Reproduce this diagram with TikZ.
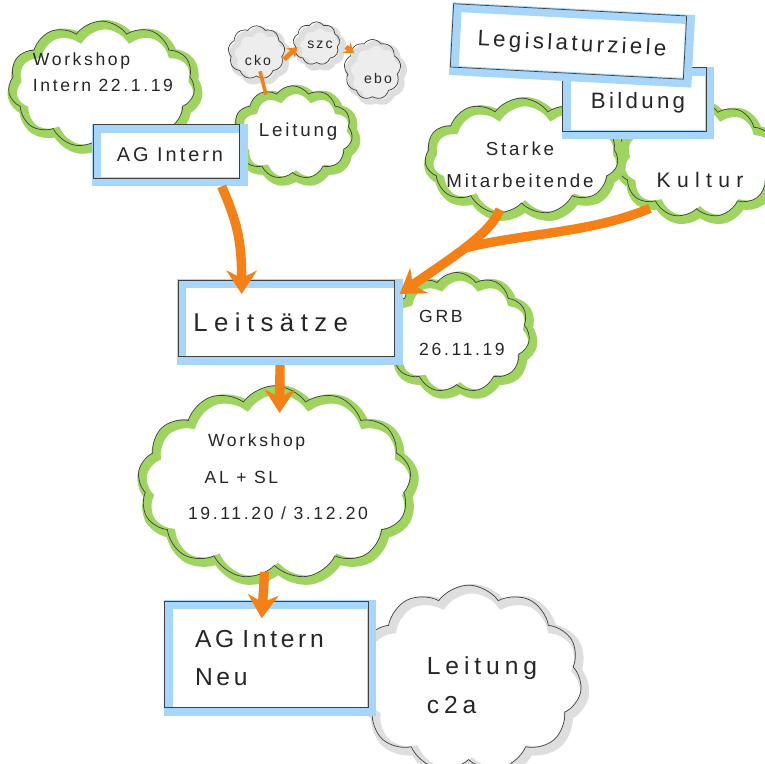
\documentclass[tikz,border=0pt]{standalone}
\usepackage{fontspec}
\setmainfont{Liberation Sans}[LetterSpace=15]
\usepackage{xcolor}
\usepackage{tikz}
\usetikzlibrary{shapes.symbols, arrows.meta, positioning, calc}

\definecolor{sketchgreen}{RGB}{160,212,96}
\definecolor{sketchblue}{RGB}{168,214,250}
\definecolor{sketchorange}{RGB}{245,128,22}
\definecolor{sketchgrey}{RGB}{222,222,222}

\begin{document}
\begin{tikzpicture}[
    x=0.03cm, y=-0.03cm,
    greencloud/.style={cloud, cloud puffs=11, cloud puff arc=110, cloud ignores aspect, draw=sketchgreen, line width=8pt, fill=white, postaction={draw=black!75, line width=0.6pt, transform canvas={shift={(-3pt,3pt)}}}},
    greycloud/.style={greencloud, draw=sketchgrey},
    smallcloud/.style={greycloud, cloud puffs=9, line width=5pt, fill=sketchgrey!55},
    bluebox/.style={rectangle, draw=sketchblue, line width=8pt, fill=white, text=black!85, postaction={draw=black!75, line width=0.6pt, transform canvas={shift={(-3pt,3pt)}}}},
    txt/.style={align=left, inner sep=0pt, text=black!85},
    arrow/.style={-{Stealth[length=20pt, width=26pt]}, draw=sketchorange, line width=8pt},
    band/.style={draw=sketchorange, line width=8pt},
    smallarrow/.style={-{Stealth[length=8pt, width=11pt]}, draw=sketchorange, line width=4pt},
]
\useasboundingbox (0,0) rectangle (765,763);

% Clouds
\node[greencloud, minimum width=5.6cm, minimum height=3.8cm] (wsintern) at (105,88) {};
\node[greencloud, minimum width=3.6cm, minimum height=2.8cm] (leitung) at (296,136) {};
\node[smallcloud, minimum width=1.7cm, minimum height=1.6cm] (cko) at (260,56) {};
\node[smallcloud, minimum width=1.4cm, minimum height=1.3cm] (szc) at (320,47) {};
\node[smallcloud, minimum width=1.7cm, minimum height=1.8cm] (ebo) at (376,73) {};
\node[greencloud, minimum width=4.8cm, minimum height=3.5cm] (kultur) at (700,163) {};
\node[greencloud, minimum width=5.8cm, minimum height=3.5cm] (starke) at (525,160) {};
\node[greencloud, minimum width=4.4cm, minimum height=3.6cm] (grb) at (460,336) {};
\node[greencloud, minimum width=8.2cm, minimum height=5.8cm, cloud puffs=13] (wsal) at (278,486) {};
\node[greycloud, minimum width=6.8cm, minimum height=5.6cm] (leitungneu) at (472,682) {};

% Boxes
\node[bluebox, minimum width=4.4cm, minimum height=1.6cm, font=\fontsize{17}{20}\selectfont] (agintern) at (170,155) {AG Intern};
\node[bluebox, minimum width=4.3cm, minimum height=1.9cm, font=\fontsize{19}{22}\selectfont] (bildung) at (638,103) {Bildung};
\node[bluebox, minimum width=7.0cm, minimum height=1.9cm, rotate=-3, font=\fontsize{19}{22}\selectfont] (legis) at (572,45) {Legislaturziele};
\node[bluebox, minimum width=6.5cm, minimum height=2.3cm, inner xsep=0.35cm, text width=5.8cm, align=left, font=\fontsize{22}{26}\selectfont\addfontfeature{LetterSpace=25}] (leitsaetze) at (290,322) {Leitsätze};
\node[bluebox, minimum width=6.1cm, minimum height=3.2cm, inner xsep=0.8cm, text width=4.5cm, align=left, font=\fontsize{21}{32}\selectfont] (agneu) at (270,658) {AG Intern\\Neu};

% Cloud texts
\node[txt, font=\fontsize{15}{22}\selectfont] (wsinterntxt) at (103,72) {Workshop\\Intern 22.1.19};
\node[txt, font=\fontsize{16}{18}\selectfont] (leitungtxt) at (298,132) {Leitung};
\node[txt, font=\fontsize{12}{14}\selectfont] (ckotxt) at (258,60) {cko};
\node[txt, font=\fontsize{12}{14}\selectfont] (szctxt) at (320,45) {szc};
\node[txt, font=\fontsize{12}{14}\selectfont] (ebotxt) at (378,78) {ebo};
\node[txt, align=center, font=\fontsize{16}{27}\selectfont] (starketxt) at (520,165) {Starke\\Mitarbeitende};
\node[txt, font=\fontsize{18}{22}\selectfont\addfontfeature{LetterSpace=30}] (kulturtxt) at (700,180) {Kultur};
\node[txt, font=\fontsize{15}{28}\selectfont] (grbtxt) at (462,333) {GRB\\26.11.19};
\node[txt, font=\fontsize{15}{31}\selectfont] (wsaltxt) at (278,477) {\hspace*{0.6cm}Workshop\\\hspace*{0.5cm}AL + SL\\19.11.20 / 3.12.20};
\node[txt, font=\fontsize{21}{33}\selectfont\addfontfeature{LetterSpace=20}] (leitungneutxt) at (482,685) {Leitung\\c2a};

% Arrows
\draw[arrow] ([xshift=1.55cm]agintern.south) .. controls +(15,35) and +(0,-55) .. ([xshift=-1.45cm, yshift=-0.45cm]leitsaetze.north);
\draw[arrow] ([xshift=-0.75cm, yshift=0.1cm]starke.south) .. controls +(-10,25) and +(50,-35) .. ([xshift=-0.1cm, yshift=-0.45cm]leitsaetze.north east) coordinate[pos=0.5] (merge);
\draw[band] ([xshift=-1.5cm, yshift=0.3cm]kultur.south) .. controls +(-60,25) and +(60,-15) .. (merge);
\draw[arrow] ([xshift=-0.3cm]leitsaetze.south) -- ([xshift=0.05cm, yshift=-0.85cm]wsal.north);
\draw[arrow] ([xshift=-0.4cm, yshift=0.1cm]wsal.south) -- ([xshift=-0.25cm, yshift=-0.55cm]agneu.north);
\draw[band, line width=3pt] ([xshift=-0.9cm, yshift=-0.3cm]leitung.north) -- ([yshift=0.35cm]cko.south);
\draw[smallarrow] ([xshift=-0.2cm, yshift=-0.1cm]cko.east) -- ([xshift=0.1cm]szc.west);
\draw[smallarrow] (szc.east) -- ([yshift=-0.1cm]ebo.north west);

\end{tikzpicture}
\end{document}
